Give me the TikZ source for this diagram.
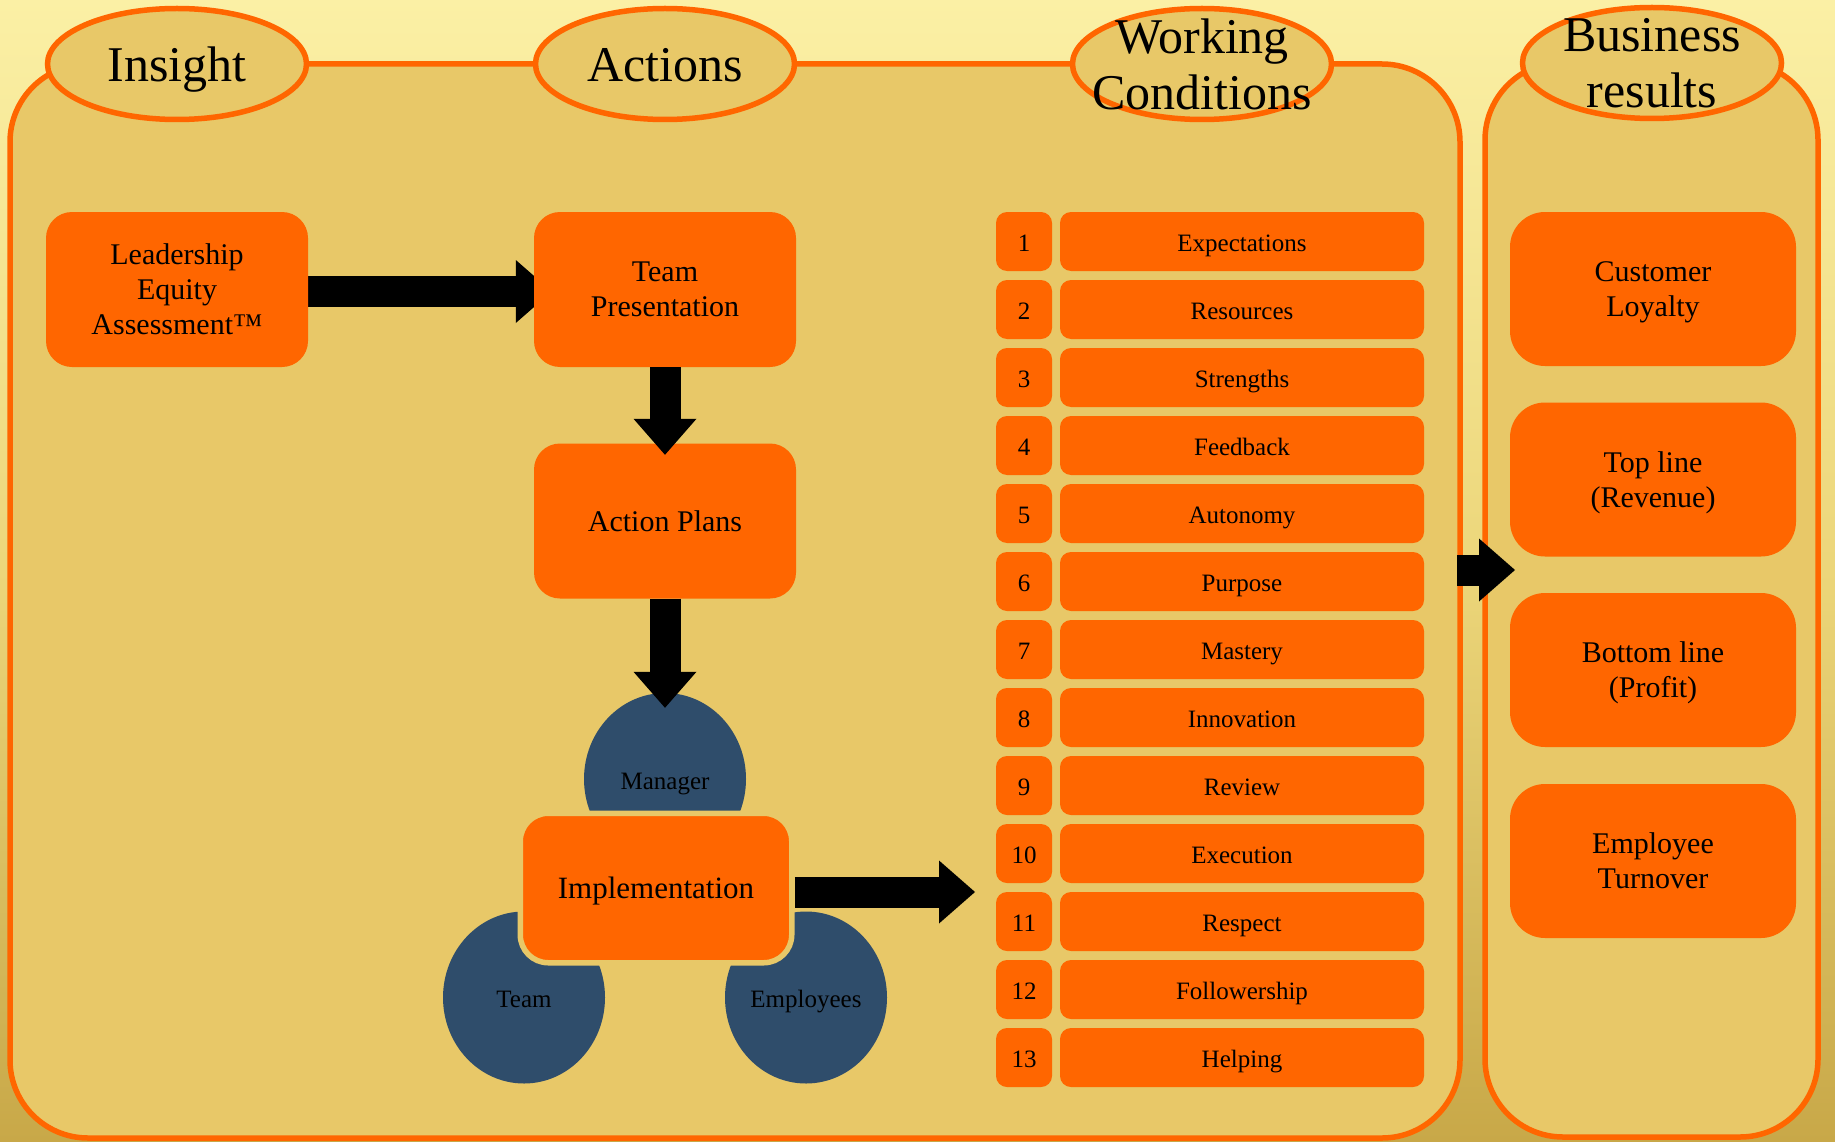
\documentclass[tikz,border=0pt]{standalone}
\usepackage{fontspec}
\setmainfont{Liberation Serif}
\usetikzlibrary{shapes.geometric,arrows.meta}
\definecolor{panel}{RGB}{232,200,104}
\definecolor{org}{RGB}{255,102,0}
\definecolor{navy}{RGB}{47,77,107}
\definecolor{bgtop}{RGB}{251,240,165}
\definecolor{bgmid}{RGB}{236,214,122}
\definecolor{bgbot}{RGB}{200,168,72}
\pgfdeclarelayer{bglayer}
\pgfdeclarelayer{under}
\pgfsetlayers{bglayer,under,main}
\begin{document}
\begin{tikzpicture}[x=1pt,y=-1pt,
  panelbox/.style={fill=panel,draw=org,line width=5.5pt,rounded corners=78pt},
  header/.style={ellipse,fill=panel,draw=org,line width=5.5pt,minimum width=259pt,minimum height=111pt,inner sep=0pt},
  headtext/.style={font=\fontsize{50}{56}\selectfont,align=center,inner sep=0pt},
  bigbox/.style={fill=org,rounded corners=26pt,minimum width=262pt,minimum height=155pt,inner sep=0pt,align=center,font=\fontsize{30}{35}\selectfont},
  resbox/.style={fill=org,rounded corners=35pt,minimum width=286pt,minimum height=154pt,inner sep=0pt,align=center,font=\fontsize{30}{35}\selectfont},
  numbox/.style={fill=org,rounded corners=11pt,minimum width=56pt,minimum height=59pt,inner sep=0pt,font=\fontsize{25}{28}\selectfont,text height=20pt,text depth=0pt},
  itembox/.style={numbox,minimum width=364pt},
  person/.style={ellipse,fill=navy,minimum width=162pt,minimum height=172pt,inner sep=0pt,font=\fontsize{25}{28}\selectfont,text height=20pt,text depth=0pt},
  bigarrow/.style={line width=31pt,-{Triangle[length=36pt,width=63pt,line width=0pt]}},
]
\useasboundingbox (0,0) rectangle (1835,1142);
\begin{pgfonlayer}{bglayer}
  \shade[top color=bgtop,bottom color=bgbot,middle color=bgmid] (0,0) rectangle (1835,1142);
  % panels
  \draw[panelbox] (10,64) rectangle (1460,1138);
  \draw[panelbox] (1485,62) rectangle (1818,1137);
  % headers
  \node[header] (h1) at (177,64) {};
  \node[header] (h2) at (665,64) {};
  \node[header] (h3) at (1202,64) {};
  \node[header] (h4) at (1652,63) {};
  \node[headtext,anchor=base] (h1t) at (177,82) {Insight};
  \node[headtext,anchor=base] (h2t) at (665,82) {Actions};
  \node[headtext] (h3t) at (h3) {Working\\Conditions};
  \node[headtext] (h4t) at (h4) {Business\\results};
\end{pgfonlayer}

% actions column
\node[bigbox] (lea) at (177,289.5) {Leadership\\Equity\\Assessment™};
\node[bigbox] (team) at (665,289.5) {Team\\\smash{Presentation}};
\node[bigbox,text height=21pt,text depth=0pt] (act) at (665,521) {Action Plans};

\node[person] (mgr) at (665,779) {Manager};
\node[person] (teamc) at (524,997.5) {Team};
\node[person] (emp) at (806,997.5) {Employees};
\node[bigbox,minimum width=271.5pt,minimum height=149.5pt,rounded corners=28pt,draw=panel,line width=5.5pt,font=\fontsize{31}{34}\selectfont,text height=21pt,text depth=0pt] (impl) at (656,888) {Implementation};

% working conditions list
\foreach \i/\t in {1/Expectations,2/Resources,3/Strengths,4/Feedback,5/Autonomy,6/Purpose,7/Mastery,8/Innovation,9/Review,10/Execution,11/Respect,12/Followership,13/Helping}{
  \node[numbox] (n\i) at (1024,{241.5+(\i-1)*68}) {\i};
  \node[itembox] (w\i) at (1242,{241.5+(\i-1)*68}) {\t};
}

% business results
\node[resbox] (r1) at (1653,289) {Customer\\\smash{Loyalty}};
\node[resbox] (r2) at (1653,479.5) {Top line\\\smash{(Revenue)}};
\node[resbox] (r3) at (1653,670) {Bottom line\\\smash{(Profit)}};
\node[resbox] (r4) at (1653,861) {Employee\\\smash{Turnover}};

% arrows
\coordinate (wcin) at (975,892);
\coordinate (pa) at (1457,570);
\coordinate (pb) at (1515,570);
\begin{pgfonlayer}{under}
  \draw[bigarrow] ([yshift=-2pt]lea.east) -- ([xshift=18pt,yshift=-2pt]team.west);
  \draw[bigarrow] (impl.east |- wcin) -- (wcin);
\end{pgfonlayer}
\draw[bigarrow] (team.south) -- ([yshift=-11.5pt]act.north);
\draw[bigarrow] (act.south) -- ([yshift=-15pt]mgr.north);
\draw[bigarrow] (pa) -- (pb);
\end{tikzpicture}
\end{document}
